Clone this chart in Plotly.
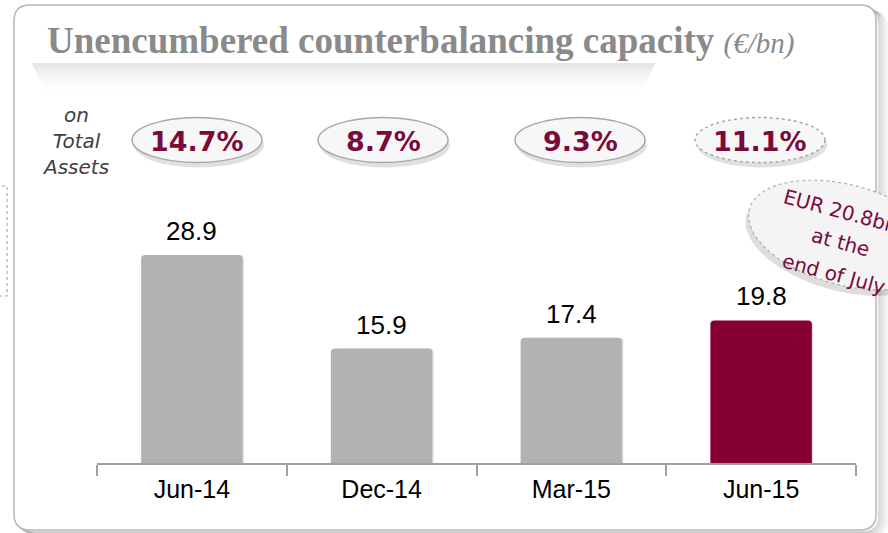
import numpy as np
import plotly.graph_objects as go

# ---- data ----
categories = ["Jun-14", "Dec-14", "Mar-15", "Jun-15"]
values = [28.9, 15.9, 17.4, 19.8]
value_labels = ["28.9", "15.9", "17.4", "19.8"]
pct_labels = ["14.7%", "8.7%", "9.3%", "11.1%"]
bar_colors = ["#B2B2B2", "#B2B2B2", "#B2B2B2", "#870033"]
title_main = "Unencumbered counterbalancing capacity"
title_unit = "(€/bn)"
side_label = "on<br>Total<br>Assets"
callout_lines = ["EUR 20.8bn", "at the", "end of July"]

W, H = 888, 533
ML, MR, MT, MB = 97, 32, 175, 70
PW, PH = W - ML - MR, H - MT - MB
MAROON = "#7A0A3A"


def px(x):
    return (x - ML) / PW


def py(y):
    return (H - MB - y) / PH


fig = go.Figure()

# soft shadow to the right of each bar
fig.add_trace(go.Bar(
    x=categories, y=values, width=0.52, offset=-0.245,
    marker=dict(color="rgba(0,0,0,0.10)", line=dict(width=0), cornerradius=4),
    hoverinfo="skip", showlegend=False,
))
fig.add_trace(go.Bar(
    x=categories, y=values, width=0.535,
    marker=dict(color=bar_colors, line=dict(width=0), cornerradius=4),
    showlegend=False,
))

fig.update_layout(
    width=W, height=H,
    margin=dict(l=ML, r=MR, t=MT, b=MB),
    paper_bgcolor="white", plot_bgcolor="white",
    barmode="overlay",
    xaxis=dict(
        range=[-0.5, 3.5], showgrid=False, zeroline=False,
        showline=True, linecolor="#A0A0A0", linewidth=1.5,
        ticks="outside", tickson="boundaries", ticklen=11, tickcolor="#A0A0A0", tickwidth=1.5,
        tickfont=dict(family="Liberation Sans", size=25, color="black"),
        ticklabelstandoff=3,
    ),
    yaxis=dict(range=[0, 40], visible=False),
    showlegend=False,
)

shapes = []
annotations = []

# outer rounded frame
x0, y0, x1, y1, r = 14, 5, 876, 530, 16
def frame_path(x0, y0, x1, y1, r):
    return (f"M {px(x0+r)},{py(y0)} L {px(x1-r)},{py(y0)} "
            f"Q {px(x1)},{py(y0)} {px(x1)},{py(y0+r)} L {px(x1)},{py(y1-r)} "
            f"Q {px(x1)},{py(y1)} {px(x1-r)},{py(y1)} L {px(x0+r)},{py(y1)} "
            f"Q {px(x0)},{py(y1)} {px(x0)},{py(y1-r)} L {px(x0)},{py(y0+r)} "
            f"Q {px(x0)},{py(y0)} {px(x0+r)},{py(y0)} Z")
for k, op in enumerate([0.24, 0.20, 0.15, 0.10, 0.06]):
    shapes.append(dict(type="path", xref="paper", yref="paper",
                       path=frame_path(x0 + 3 + k * 2, y0 + 3 + k, x1 + 3 + k * 2, y1 + 2 + k, r),
                       line=dict(color=f"rgba(120,120,120,{op})", width=2.5), layer="below"))
shapes.append(dict(type="path", xref="paper", yref="paper", path=frame_path(x0, y0, x1, y1, r),
                   line=dict(color="#B8B8B8", width=1.5), fillcolor="white", layer="below"))

# left dotted partial box
shapes.append(dict(type="rect", xref="paper", yref="paper",
                   x0=px(-10), x1=px(7), y0=py(186), y1=py(296),
                   line=dict(color="#AAAAAA", width=1.2, dash="dot")))

# gray fading band under the title
for k in range(15):
    yy = 63 + k * 2
    op = 0.24 * (1 - k / 15) ** 1.5
    shapes.append(dict(type="rect", xref="paper", yref="paper",
                       x0=px(32 + k), x1=px(655 - k), y0=py(yy), y1=py(yy + 2),
                       fillcolor=f"rgba(150,150,150,{op})", line=dict(width=0), layer="below"))

# title
annotations.append(dict(
    xref="paper", yref="paper", x=px(45), y=py(40), xanchor="left", yanchor="middle",
    text=f"<b>{title_main}</b> <span style='font-size:29px'><i>{title_unit}</i></span>",
    showarrow=False, font=dict(family="Liberation Serif", size=37, color="#8A8A8A"),
))

# side label
annotations.append(dict(
    xref="paper", yref="paper", x=px(75), y=py(141), xanchor="center", yanchor="middle",
    text=f"<i>{side_label}</i>", showarrow=False,
    font=dict(family="DejaVu Sans", size=20, color="#404040"),
))

# percentage ellipses
ell_cx = [197, 383, 580, 760]
for i, lab in enumerate(pct_labels):
    cx = ell_cx[i]
    cy = 140
    aw, ah = 65, 22.5
    shapes.append(dict(type="circle", xref="paper", yref="paper",
                       x0=px(cx - aw + 2), x1=px(cx + aw + 2), y0=py(cy - ah + 5), y1=py(cy + ah + 5),
                       fillcolor="rgba(0,0,0,0.12)", line=dict(width=0)))
    shapes.append(dict(type="circle", xref="paper", yref="paper",
                       x0=px(cx - aw), x1=px(cx + aw), y0=py(cy - ah), y1=py(cy + ah),
                       fillcolor="#F7F7F7",
                       line=dict(color="#A8A8A8", width=1.5, dash="dot" if i == 3 else "solid")))
    annotations.append(dict(
        xref="paper", yref="paper", x=px(cx), y=py(cy + 1), xanchor="center", yanchor="middle",
        text=f"<b>{lab}</b>", showarrow=False,
        font=dict(family="DejaVu Sans", size=27, color=MAROON),
    ))

# value labels above bars
for i, (v, lab) in enumerate(zip(values, value_labels)):
    annotations.append(dict(
        x=categories[i], y=v, xref="x", yref="y", yanchor="bottom", yshift=7,
        text=lab, showarrow=False,
        font=dict(family="Liberation Sans", size=26, color="black"),
    ))

# rotated callout ellipse
ang = np.deg2rad(15)
t = np.linspace(0, 2 * np.pi, 90)
ccx, ccy, a, b = 846, 235, 100, 50
def ell(dx, dy):
    ex = ccx + dx + a * np.cos(t) * np.cos(ang) - b * np.sin(t) * np.sin(ang)
    ey = ccy + dy + a * np.cos(t) * np.sin(ang) + b * np.sin(t) * np.cos(ang)
    return "M " + " L ".join(f"{px(X):.5f},{py(Y):.5f}" for X, Y in zip(ex, ey)) + " Z"
shapes.append(dict(type="path", xref="paper", yref="paper", path=ell(-3, 6),
                   fillcolor="rgba(0,0,0,0.13)", line=dict(width=0)))
shapes.append(dict(type="path", xref="paper", yref="paper", path=ell(0, 0),
                   fillcolor="#F4F4F4", line=dict(color="#B0B0B0", width=1.2, dash="dot")))
callout_pos = [(840, 211), (840, 242), (834, 274)]
for (cxp, cyp), line in zip(callout_pos, callout_lines):
    annotations.append(dict(
        xref="paper", yref="paper", x=px(cxp), y=py(cyp), xanchor="center", yanchor="middle",
        text=line, textangle=15, showarrow=False,
        font=dict(family="DejaVu Sans", size=20, color=MAROON),
    ))

fig.update_layout(shapes=shapes, annotations=annotations)
fig.write_html(
    "out.html",
    config={"displayModeBar": False},
    post_script="document.body.style.margin='0px';document.body.style.overflow='hidden';",
)
